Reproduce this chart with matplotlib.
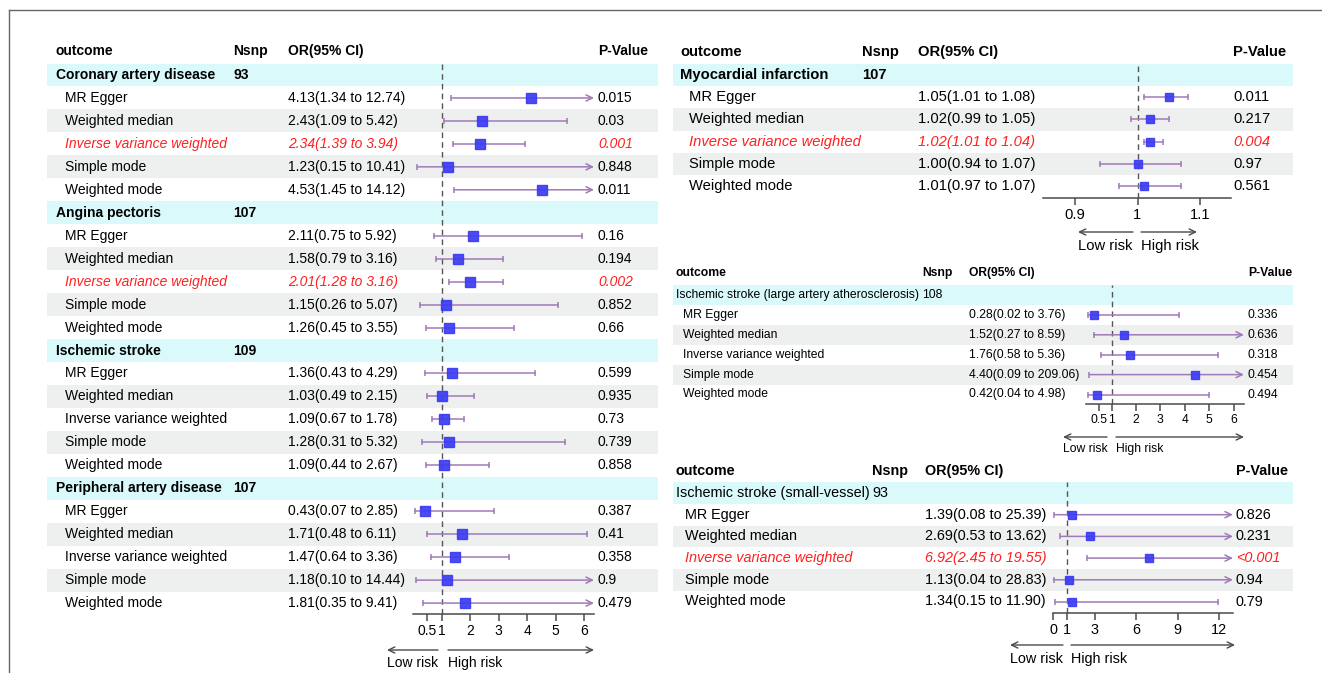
import matplotlib
matplotlib.use("Agg")
import matplotlib.pyplot as plt
from matplotlib.lines import Line2D

plt.rcParams["font.family"] = ["Liberation Sans", "DejaVu Sans"]

W, H = 1322, 673

methods = ["MR Egger", "Weighted median", "Inverse variance weighted",
           "Simple mode", "Weighted mode"]

# left block: four cardiovascular outcomes
cvd_outcomes = ["Coronary artery disease", "Angina pectoris",
                "Ischemic stroke", "Peripheral artery disease"]
cvd_nsnp = [93, 107, 109, 107]
cvd_or = [[4.13, 2.43, 2.34, 1.23, 4.53],
          [2.11, 1.58, 2.01, 1.15, 1.26],
          [1.36, 1.03, 1.09, 1.28, 1.09],
          [0.43, 1.71, 1.47, 1.18, 1.81]]
cvd_lower = [[1.34, 1.09, 1.39, 0.15, 1.45],
             [0.75, 0.79, 1.28, 0.26, 0.45],
             [0.43, 0.49, 0.67, 0.31, 0.44],
             [0.07, 0.48, 0.64, 0.10, 0.35]]
cvd_upper = [[12.74, 5.42, 3.94, 10.41, 14.12],
             [5.92, 3.16, 3.16, 5.07, 3.55],
             [4.29, 2.15, 1.78, 5.32, 2.67],
             [2.85, 6.11, 3.36, 14.44, 9.41]]
cvd_pval = [["0.015", "0.03", "0.001", "0.848", "0.011"],
            ["0.16", "0.194", "0.002", "0.852", "0.66"],
            ["0.599", "0.935", "0.73", "0.739", "0.858"],
            ["0.387", "0.41", "0.358", "0.9", "0.479"]]

# top right: myocardial infarction
mi_outcomes = ["Myocardial infarction"]
mi_nsnp = [107]
mi_or = [[1.05, 1.02, 1.02, 1.00, 1.01]]
mi_lower = [[1.01, 0.99, 1.01, 0.94, 0.97]]
mi_upper = [[1.08, 1.05, 1.04, 1.07, 1.07]]
mi_pval = [["0.011", "0.217", "0.004", "0.97", "0.561"]]

# middle right: large artery stroke
las_outcomes = ["Ischemic stroke (large artery atherosclerosis)"]
las_nsnp = [108]
las_or = [[0.28, 1.52, 1.76, 4.40, 0.42]]
las_lower = [[0.02, 0.27, 0.58, 0.09, 0.04]]
las_upper = [[3.76, 8.59, 5.36, 209.06, 4.98]]
las_pval = [["0.336", "0.636", "0.318", "0.454", "0.494"]]

# bottom right: small vessel stroke
svs_outcomes = ["Ischemic stroke (small-vessel)"]
svs_nsnp = [93]
svs_or = [[1.39, 2.69, 6.92, 1.13, 1.34]]
svs_lower = [[0.08, 0.53, 2.45, 0.04, 0.15]]
svs_upper = [[25.39, 13.62, 19.55, 28.83, 11.90]]
svs_pval = [["0.826", "0.231", "<0.001", "0.94", "0.79"]]

left_ticks = [0.5, 1, 2, 3, 4, 5, 6]
mi_ticks = [0.9, 1, 1.1]
las_ticks = [0.5, 1, 2, 3, 4, 5, 6]
svs_ticks = [0, 1, 3, 6, 9, 12]

GROUP_BG = "#d9f9fa"
GREY_BG = "#eef0ef"
LINE_C = "#a07ab8"
BOX_C = "#3b3bf2"
AXIS_C = "#4a4a4a"
RED = "#ff2020"

panels = [
    dict(outcomes=cvd_outcomes, nsnp=cvd_nsnp, est=cvd_or, lo=cvd_lower,
         hi=cvd_upper, p=cvd_pval, ticks=left_ticks,
         row0=75, step=22.96, band=(47, 658), head_y=51,
         cols=(56, 65, 233, 288, 598), forest=(413, 594), axis_y=614,
         xlim=(0, 6.35), fs=10, tick_fs=10, ms=7, bold_group=True,
         low=(438, 387), high=(448, 594), arrow_y=650, risk_y=663),
    dict(outcomes=mi_outcomes, nsnp=mi_nsnp, est=mi_or, lo=mi_lower,
         hi=mi_upper, p=mi_pval, ticks=mi_ticks,
         row0=75, step=22.2, band=(673, 1293), head_y=52,
         cols=(680, 689, 862, 918, 1233), forest=(1043, 1231), axis_y=198,
         xlim=(0.8488, 1.1496), fs=10.6, tick_fs=10.6, ms=6, bold_group=True,
         low=(1133, 1078), high=(1141, 1197), arrow_y=232, risk_y=246),
    dict(outcomes=las_outcomes, nsnp=las_nsnp, est=las_or, lo=las_lower,
         hi=las_upper, p=las_pval, ticks=las_ticks,
         row0=295, step=19.9, band=(673, 1293), head_y=273,
         cols=(676, 683, 922, 969, 1248), forest=(1086, 1244), axis_y=404,
         xlim=(-0.05, 6.43), fs=8.7, tick_fs=8.7, ms=6, bold_group=False,
         low=(1107, 1063), high=(1116, 1244), arrow_y=437, risk_y=449),
    dict(outcomes=svs_outcomes, nsnp=svs_nsnp, est=svs_or, lo=svs_lower,
         hi=svs_upper, p=svs_pval, ticks=svs_ticks,
         row0=493, step=21.7, band=(673, 1293), head_y=471,
         cols=(676, 685, 872, 925, 1236), forest=(1053, 1233), axis_y=613,
         xlim=(0, 13.0), fs=10.4, tick_fs=10.4, ms=5.5, bold_group=False,
         low=(1063, 1010), high=(1071, 1235), arrow_y=645, risk_y=659),
]


def px_rect(x0, y0, x1, y1):
    return [x0 / W, 1 - y1 / H, (x1 - x0) / W, (y1 - y0) / H]


def p_number(s):
    return float(s.lstrip("<"))


def draw_panel(fig, cfg):
    row0, step = cfg["row0"], cfg["step"]
    top_px = row0 - step / 2
    bottom_row = (cfg["axis_y"] - row0) / step
    ylim = (bottom_row, -0.5)
    bx0, bx1 = cfg["band"]
    c_label, c_method, c_nsnp, c_ci, c_p = cfg["cols"]
    fs = cfg["fs"]

    tab = fig.add_axes(px_rect(bx0, top_px, bx1, cfg["axis_y"]))
    tab.set_xlim(bx0, bx1)
    tab.set_ylim(*ylim)
    tab.axis("off")

    def row_of(px_y):
        return (px_y - row0) / step

    # column headers
    hy = row_of(cfg["head_y"])
    for x, s in [(c_label, "outcome"), (c_nsnp, "Nsnp"),
                 (c_ci, "OR(95% CI)"), (c_p, "P-Value")]:
        tab.text(x, hy, s, fontsize=fs, fontweight="bold", va="center")

    fax = fig.add_axes(px_rect(cfg["forest"][0], top_px, cfg["forest"][1],
                               cfg["axis_y"]))
    fax.set_xlim(*cfg["xlim"])
    fax.set_ylim(*ylim)
    fax.patch.set_alpha(0)
    for side in ["top", "left", "right"]:
        fax.spines[side].set_visible(False)
    fax.spines["bottom"].set_color(AXIS_C)
    fax.spines["bottom"].set_linewidth(1.1)
    fax.set_yticks([])
    fax.set_xticks(cfg["ticks"])
    fax.set_xticklabels([f"{t:g}" for t in cfg["ticks"]])
    fax.tick_params(axis="x", direction="out", length=5.2, width=1.1,
                    color=AXIS_C, pad=2, labelsize=cfg["tick_fs"])
    fax.axvline(1, color="#555555", lw=1, ls=(0, (4, 3)), zorder=1)
    xmin, xmax = cfg["xlim"]

    r = 0
    for g, name in enumerate(cfg["outcomes"]):
        tab.axhspan(r - 0.5, r + 0.5, color=GROUP_BG, lw=0)
        weight = "bold" if cfg["bold_group"] else "normal"
        tab.text(c_label, r, name, fontsize=fs, fontweight=weight, va="center")
        tab.text(c_nsnp, r, str(cfg["nsnp"][g]), fontsize=fs,
                 fontweight=weight, va="center")
        r += 1
        for k, m in enumerate(methods):
            if k % 2 == 1:
                tab.axhspan(r - 0.5, r + 0.5, color=GREY_BG, lw=0)
            est = cfg["est"][g][k]
            lo = cfg["lo"][g][k]
            hi = cfg["hi"][g][k]
            p = cfg["p"][g][k]
            hot = m == "Inverse variance weighted" and p_number(p) < 0.05
            style = dict(fontsize=fs, va="center",
                         color=RED if hot else "black",
                         fontstyle="italic" if hot else "normal")
            tab.text(c_method, r, m, **style)
            tab.text(c_ci, r, f"{est:.2f}({lo:.2f} to {hi:.2f})", **style)
            tab.text(c_p, r, p, **style)

            left = max(lo, xmin)
            if hi > xmax:
                fax.annotate("", xy=(xmax, r), xytext=(left, r),
                             arrowprops=dict(
                                 arrowstyle="->,head_length=0.45,head_width=0.22",
                                 color=LINE_C, lw=1.1, shrinkA=0, shrinkB=0),
                             annotation_clip=False, zorder=2)
            else:
                fax.plot([left, hi], [r, r], color=LINE_C, lw=1.1, zorder=2)
                fax.plot([hi], [r], marker="|", ms=5, mew=1.1, color=LINE_C,
                         zorder=2)
            fax.plot([left], [r], marker="|", ms=5, mew=1.1, color=LINE_C,
                     zorder=2)
            fax.plot([est], [r], marker="s", ms=cfg["ms"], color=BOX_C,
                     mec=BOX_C, alpha=0.92, zorder=3)
            r += 1

    # risk direction arrows under the axis
    ay = row_of(cfg["arrow_y"])
    ry = row_of(cfg["risk_y"])
    arrow = dict(arrowstyle="->,head_length=0.45,head_width=0.22",
                 color=AXIS_C, lw=1, shrinkA=0, shrinkB=0)
    tab.annotate("", xy=(cfg["low"][1], ay), xytext=(cfg["low"][0], ay),
                 arrowprops=arrow, annotation_clip=False)
    tab.annotate("", xy=(cfg["high"][1], ay), xytext=(cfg["high"][0], ay),
                 arrowprops=arrow, annotation_clip=False)
    tab.text(cfg["low"][1], ry, "Low risk", fontsize=cfg["tick_fs"],
             va="center", ha="left")
    tab.text(cfg["high"][0], ry, "High risk", fontsize=cfg["tick_fs"],
             va="center", ha="left")


fig = plt.figure(figsize=(W / 100, H / 100), dpi=100)
fig.patch.set_facecolor("white")

# thin frame on top and left edges
fig.add_artist(Line2D([9 / W, 1], [1 - 10 / H, 1 - 10 / H],
                      transform=fig.transFigure, color="#666666", lw=1))
fig.add_artist(Line2D([9 / W, 9 / W], [0, 1 - 10 / H],
                      transform=fig.transFigure, color="#666666", lw=1))

for cfg in panels:
    draw_panel(fig, cfg)

fig.savefig("out.png", dpi=100)
